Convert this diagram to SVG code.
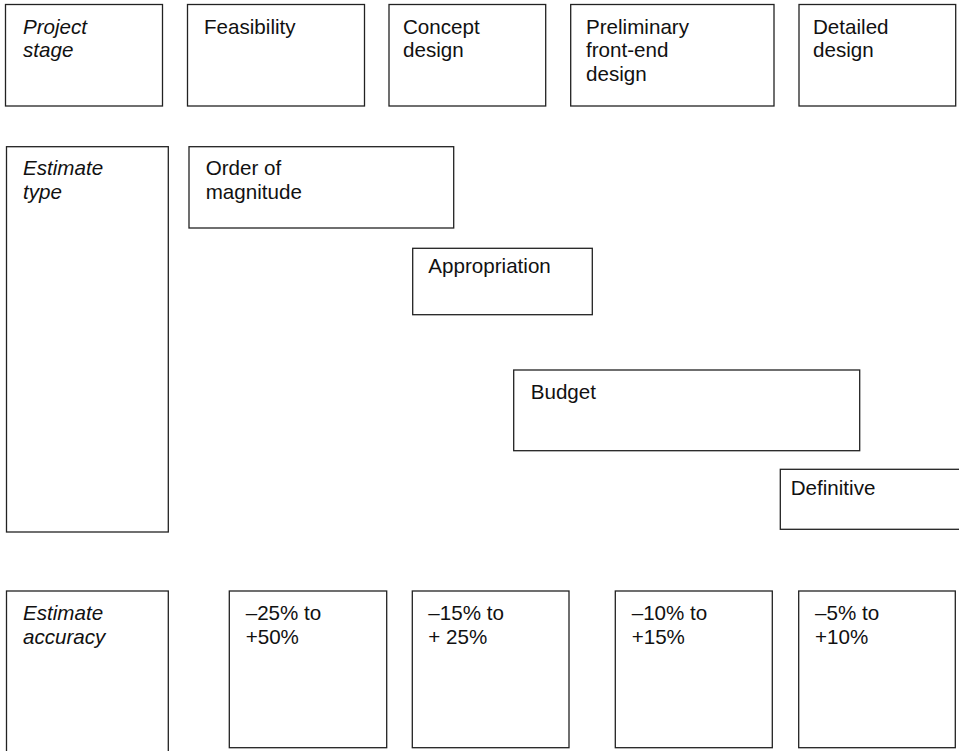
<svg xmlns="http://www.w3.org/2000/svg" width="959" height="751" viewBox="0 0 959 751">
<style>
rect{fill:#fff;stroke:#222;stroke-width:1.3}
text{font-family:"Liberation Sans",Arial,sans-serif;font-size:20.6px;fill:#111}
.i{font-style:italic}
</style>
<rect x="0" y="0" width="959" height="751" style="stroke:none"/>
<g id="project-stage"><rect x="5.5" y="4.5" width="157" height="101.5"/><text class="i" x="23" y="33.5">Project</text><text class="i" x="23" y="57">stage</text></g>
<g id="feasibility"><rect x="187.5" y="4.5" width="177" height="101.5"/><text x="204" y="33.5">Feasibility</text></g>
<g id="concept-design"><rect x="389" y="4.5" width="156.7" height="101.5"/><text x="403" y="33.5">Concept</text><text x="403" y="57">design</text></g>
<g id="preliminary"><rect x="570.7" y="4.5" width="203.3" height="101.5"/><text x="586" y="33.5">Preliminary</text><text x="586" y="57">front-end</text><text x="586" y="80.5">design</text></g>
<g id="detailed-design"><rect x="799" y="4.5" width="156.7" height="101.5"/><text x="813" y="33.5">Detailed</text><text x="813" y="57">design</text></g>
<g id="estimate-type"><rect x="6.5" y="146.7" width="161.8" height="385.3"/><text class="i" x="23" y="175">Estimate</text><text class="i" x="23" y="198.5">type</text></g>
<g id="order-of-magnitude"><rect x="189" y="146.7" width="264.7" height="81.3"/><text x="205.7" y="175">Order of</text><text x="205.7" y="198.5">magnitude</text></g>
<g id="appropriation"><rect x="412.7" y="248.3" width="179.6" height="66.4"/><text x="428.3" y="273">Appropriation</text></g>
<g id="budget"><rect x="513.7" y="370" width="346" height="80.7"/><text x="530.7" y="399">Budget</text></g>
<g id="definitive"><rect x="780.3" y="469.3" width="190" height="60"/><text x="790.7" y="495">Definitive</text></g>
<g id="estimate-accuracy"><rect x="6.5" y="591" width="161.8" height="180"/><text class="i" x="23" y="620">Estimate</text><text class="i" x="23" y="643.5">accuracy</text></g>
<g id="acc-25"><rect x="229.3" y="591" width="157.4" height="156.7"/><text x="245.7" y="620">–25% to</text><text x="245.7" y="643.5">+50%</text></g>
<g id="acc-15"><rect x="412.3" y="591" width="156.7" height="156.7"/><text x="428.3" y="620">–15% to</text><text x="428.3" y="643.5">+ 25%</text></g>
<g id="acc-10"><rect x="615.3" y="591" width="157" height="156.7"/><text x="631.7" y="620">–10% to</text><text x="631.7" y="643.5">+15%</text></g>
<g id="acc-5"><rect x="798.7" y="591" width="156.6" height="156.7"/><text x="815" y="620">–5% to</text><text x="815" y="643.5">+10%</text></g>
<g id="connectors"></g>
</svg>
